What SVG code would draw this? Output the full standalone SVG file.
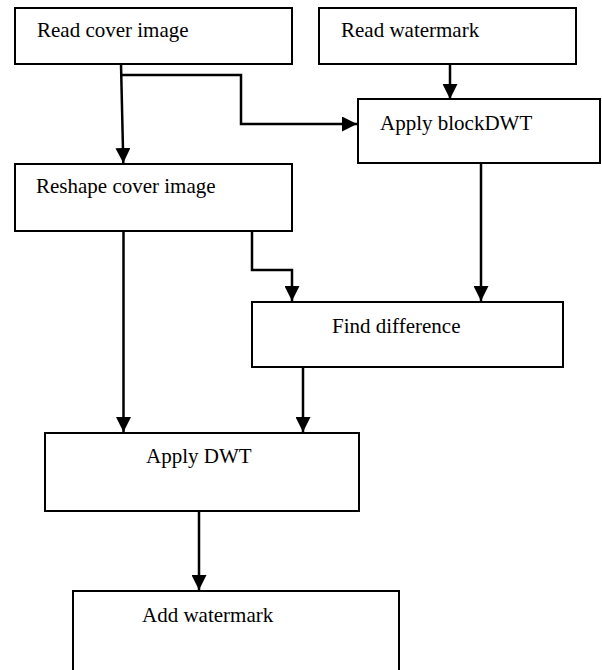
<svg xmlns="http://www.w3.org/2000/svg" width="602" height="670" viewBox="0 0 602 670">
<style>
.box{fill:#fff;stroke:#000;stroke-width:2}
.lbl{font-family:"Liberation Serif","Times New Roman",serif;font-size:21px;fill:#000}
.c{fill:none;stroke:#000;stroke-width:2.5}
</style>
<defs>
<marker id="ah" markerUnits="userSpaceOnUse" markerWidth="15" markerHeight="15" refX="15" refY="7.5" orient="auto">
<path d="M0,0 L15,7.5 L0,15 z" fill="#000"/>
</marker>
</defs>
<rect width="602" height="670" fill="#fff"/>
<g id="n-read-cover"><rect class="box" x="15" y="8" width="277" height="56"/><text class="lbl" x="37" y="37">Read cover image</text></g>
<g id="n-read-wm"><rect class="box" x="319" y="8" width="257" height="56"/><text class="lbl" x="341" y="37">Read watermark</text></g>
<g id="n-blockdwt"><rect class="box" x="358" y="99" width="242" height="64"/><text class="lbl" x="380" y="130">Apply blockDWT</text></g>
<g id="n-reshape"><rect class="box" x="15" y="164" width="277" height="67"/><text class="lbl" x="36" y="193">Reshape cover image</text></g>
<g id="n-diff"><rect class="box" x="252" y="302" width="311" height="65"/><text class="lbl" x="332" y="333">Find difference</text></g>
<g id="n-dwt"><rect class="box" x="45" y="433" width="314" height="78"/><text class="lbl" x="146" y="463">Apply DWT</text></g>
<g id="n-add"><rect class="box" x="73" y="591" width="326" height="90"/><text class="lbl" x="142" y="622">Add watermark</text></g>
<g id="connectors">
<path class="c" d="M121,64 L123.3,163" marker-end="url(#ah)"/>
<path class="c" d="M121,75 H241 V124 H357" marker-end="url(#ah)"/>
<path class="c" d="M450,64 V99" marker-end="url(#ah)"/>
<path class="c" d="M123.5,231 V432" marker-end="url(#ah)"/>
<path class="c" d="M252,231 V270 H292 V301" marker-end="url(#ah)"/>
<path class="c" d="M481,163 V301" marker-end="url(#ah)"/>
<path class="c" d="M303,367 V432" marker-end="url(#ah)"/>
<path class="c" d="M199,511 V590" marker-end="url(#ah)"/>
</g>
</svg>
